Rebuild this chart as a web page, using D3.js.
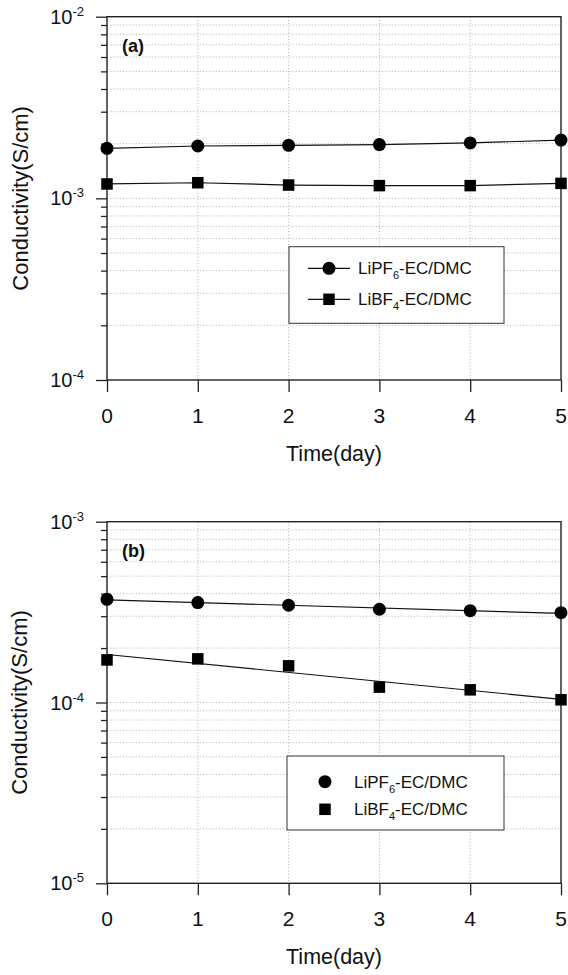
<!DOCTYPE html>
<html>
<head>
<meta charset="utf-8">
<script src="https://cdn.jsdelivr.net/npm/d3@7"></script>
<style>
  html, body { margin: 0; padding: 0; background: #fff; }
  svg { display: block; }
  text { font-family: "Liberation Sans", Arial, sans-serif; fill: #111; }
</style>
</head>
<body>
<svg id="chart" width="568" height="975"></svg>
<script>
// ---- data ----
const days = [0, 1, 2, 3, 4, 5];
const xTickValues = [0, 1, 2, 3, 4, 5];

// panel (a)
const aLiPF6 = [1.886e-3, 1.942e-3, 1.958e-3, 1.976e-3, 2.018e-3, 2.094e-3];
const aLiBF4 = [1.200e-3, 1.219e-3, 1.184e-3, 1.175e-3, 1.175e-3, 1.209e-3];
const aDecadeExponents = [-4, -3, -2];

// panel (b)
const bLiPF6 = [3.72e-4, 3.57e-4, 3.45e-4, 3.28e-4, 3.22e-4, 3.14e-4];
const bLiBF4 = [1.72e-4, 1.743e-4, 1.595e-4, 1.216e-4, 1.175e-4, 1.035e-4];
const bDecadeExponents = [-5, -4, -3];

const seriesBase = ["LiPF", "LiBF"];
const seriesSub = ["6", "4"];
const seriesTail = "-EC/DMC";
const panelLabels = ["(a)", "(b)"];
const xTitle = "Time(day)";
const yTitle = "Conductivity(S/cm)";

// ---- drawing ----
const svg = d3.select("#chart");

function fitLog(xs, ys) {
  const ly = ys.map(v => Math.log10(v));
  const mx = d3.mean(xs), my = d3.mean(ly);
  let sxy = 0, sxx = 0;
  xs.forEach((x, i) => { sxy += (x - mx) * (ly[i] - my); sxx += (x - mx) * (x - mx); });
  const slope = sxy / sxx, icpt = my - slope * mx;
  return x => Math.pow(10, icpt + slope * x);
}

function drawPanel(cfg) {
  const g = svg.append("g");
  const x = d3.scaleLinear().domain([0, 5]).range([cfg.left, cfg.right]);
  const exps = cfg.exps;
  const y = d3.scaleLog()
    .domain([Math.pow(10, exps[0]), Math.pow(10, exps[exps.length - 1])])
    .range([cfg.bottom, cfg.top]);

  // minor values
  const minorVals = [];
  for (let k = exps[0]; k < exps[exps.length - 1]; k++) {
    for (let j = 2; j <= 9; j++) minorVals.push(j * Math.pow(10, k));
  }
  const majorVals = exps.map(e => Math.pow(10, e));

  // grid
  const grid = g.append("g").attr("stroke", "#9a9a9a").attr("stroke-width", 0.8)
    .attr("stroke-dasharray", "1,2.2");
  grid.selectAll("line.h").data(minorVals.concat(majorVals.slice(1, -1))).enter()
    .append("line")
    .attr("x1", cfg.left).attr("x2", cfg.right)
    .attr("y1", d => y(d)).attr("y2", d => y(d));
  grid.selectAll("line.v").data(xTickValues.slice(1, -1)).enter()
    .append("line")
    .attr("x1", d => x(d)).attr("x2", d => x(d))
    .attr("y1", cfg.top).attr("y2", cfg.bottom);

  // y axis (major ticks outward, minor outward shorter)
  const yAxis = d3.axisLeft(y).tickValues(majorVals).tickSize(11).tickFormat("");
  const yAxisG = g.append("g").attr("transform", `translate(${cfg.left},0)`).call(yAxis);
  const yMinor = d3.axisLeft(y).tickValues(minorVals).tickSize(6).tickFormat("");
  const yMinorG = g.append("g").attr("transform", `translate(${cfg.left},0)`).call(yMinor);
  [yAxisG, yMinorG].forEach(a => {
    a.select(".domain").remove();
    a.selectAll("line").attr("stroke", "#222").attr("stroke-width", 1.3);
  });

  // y tick labels 10^k
  const yl = g.append("g");
  exps.forEach(e => {
    const t = yl.append("text")
      .attr("x", cfg.left - 23)
      .attr("y", y(Math.pow(10, e)) + 7)
      .attr("text-anchor", "end")
      .style("font-size", "20px");
    t.append("tspan").text("10");
    t.append("tspan").attr("dy", -8).style("font-size", "13px").text(String(e));
  });

  // x axis
  const xAxis = d3.axisBottom(x).tickValues(xTickValues).tickSize(12).tickFormat("");
  const xAxisG = g.append("g").attr("transform", `translate(0,${cfg.bottom})`).call(xAxis);
  xAxisG.select(".domain").remove();
  xAxisG.selectAll("line").attr("stroke", "#222").attr("stroke-width", 1.3);
  g.append("g").selectAll("text").data(xTickValues).enter().append("text")
    .attr("x", d => x(d)).attr("y", cfg.bottom + 43)
    .attr("text-anchor", "middle").style("font-size", "21px")
    .text(d => d);

  // frame
  g.append("rect")
    .attr("x", cfg.left).attr("y", cfg.top)
    .attr("width", cfg.right - cfg.left).attr("height", cfg.bottom - cfg.top)
    .attr("fill", "none").attr("stroke", "#222").attr("stroke-width", 1.4);

  // titles
  g.append("text")
    .attr("x", (cfg.left + cfg.right) / 2).attr("y", cfg.bottom + 81)
    .attr("text-anchor", "middle").style("font-size", "21.5px").text(xTitle);
  g.append("text")
    .attr("transform", `translate(${cfg.ytx},${(cfg.top + cfg.bottom) / 2}) rotate(-90)`)
    .attr("text-anchor", "middle").style("font-size", "22px").text(yTitle);
  g.append("text")
    .attr("x", cfg.left + 15).attr("y", cfg.top + 35)
    .style("font-size", "18px").style("font-weight", "bold").text(cfg.label);

  // series lines
  const lineG = g.append("g").attr("fill", "none").attr("stroke", "#111").attr("stroke-width", 1.2);
  cfg.series.forEach(vals => {
    if (cfg.fit) {
      const f = fitLog(days, vals);
      lineG.append("line")
        .attr("x1", x(days[0])).attr("y1", y(f(days[0])))
        .attr("x2", x(days[days.length - 1])).attr("y2", y(f(days[days.length - 1])));
    } else {
      lineG.append("path").attr("d", d3.line().x((d, i) => x(days[i])).y(d => y(d))(vals));
    }
  });

  // markers
  const symG = g.append("g").attr("fill", "#000");
  symG.selectAll("circle").data(cfg.series[0]).enter().append("circle")
    .attr("cx", (d, i) => x(days[i])).attr("cy", d => y(d)).attr("r", 6.5);
  const sq = 11.5;
  symG.selectAll("rect").data(cfg.series[1]).enter().append("rect")
    .attr("x", (d, i) => x(days[i]) - sq / 2).attr("y", d => y(d) - sq / 2)
    .attr("width", sq).attr("height", sq);

  // legend
  const L = cfg.legend;
  const lg = g.append("g");
  lg.append("rect").attr("x", L.x).attr("y", L.y).attr("width", L.w).attr("height", L.h)
    .attr("fill", "#fff").attr("stroke", "#333").attr("stroke-width", 1);
  // redraw gridline crossing legend bottom edge is part of border; fine
  seriesBase.forEach((name, i) => {
    const cy = L.rows[i];
    if (L.lines) {
      lg.append("line").attr("x1", L.symX - 21).attr("x2", L.symX + 21)
        .attr("y1", cy).attr("y2", cy).attr("stroke", "#111").attr("stroke-width", 1.2);
    }
    if (i === 0) {
      lg.append("circle").attr("cx", L.symX).attr("cy", cy).attr("r", 6.5).attr("fill", "#000");
    } else {
      lg.append("rect").attr("x", L.symX - sq / 2).attr("y", cy - sq / 2)
        .attr("width", sq).attr("height", sq).attr("fill", "#000");
    }
    const t = lg.append("text").attr("x", L.textX).attr("y", cy + 6).style("font-size", "17px");
    t.append("tspan").text(name);
    t.append("tspan").attr("dy", 5).style("font-size", "11px").text(seriesSub[i]);
    t.append("tspan").attr("dy", -5).text(seriesTail);
  });
}

drawPanel({
  left: 107, right: 561, top: 16.7, bottom: 380,
  exps: aDecadeExponents, label: panelLabels[0], ytx: 28,
  series: [aLiPF6, aLiBF4], fit: false,
  legend: { x: 289, y: 246.7, w: 215, h: 76.6, rows: [268.3, 299.3], symX: 329, textX: 358, lines: true }
});

drawPanel({
  left: 107, right: 561, top: 521.7, bottom: 883.3,
  exps: bDecadeExponents, label: panelLabels[1], ytx: 27,
  series: [bLiPF6, bLiBF4], fit: true,
  legend: { x: 287, y: 756, w: 217, h: 74, rows: [781.7, 809.3], symX: 325, textX: 354, lines: false }
});
</script>
</body>
</html>
